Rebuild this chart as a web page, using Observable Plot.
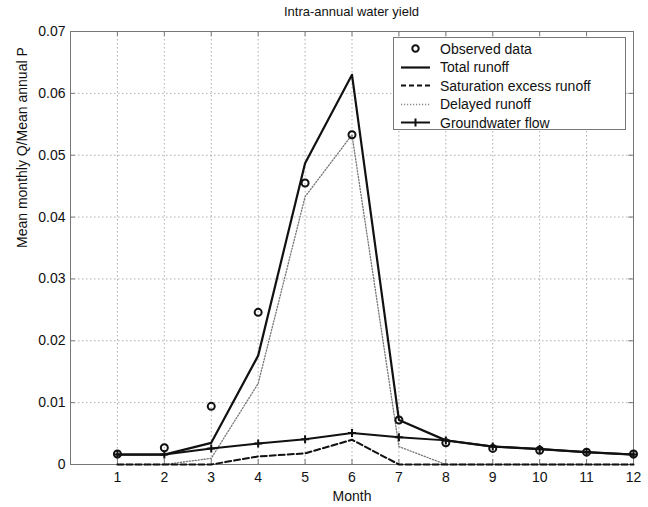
<!DOCTYPE html>
<html>
<head>
<meta charset="utf-8">
<script src="https://cdn.jsdelivr.net/npm/d3@7"></script>
<script src="https://cdn.jsdelivr.net/npm/@observablehq/plot@0.6"></script>
<style>
  body { margin: 0; background: #fff; font-family: "Liberation Sans", Arial, sans-serif; }
  #wrap { position: relative; width: 648px; height: 507px; }
  #title { position: absolute; left: 70px; width: 563px; top: 4px; text-align: center; font-size: 13px; color: #111; }
  #chart { position: absolute; left: 0; top: 24px; }
  #legend { position: absolute; left: 393px; top: 37px; width: 233px; height: 93px; border: 1px solid #777; background: #fff; box-sizing: border-box; }
  .row { position: absolute; left: 0; height: 19px; display: flex; align-items: center; font-size: 14px; color: #111; }
  .row svg { margin-left: 6px; margin-right: 9px; }
</style>
</head>
<body>
<div id="wrap">
  <div id="title">Intra-annual water yield</div>
  <div id="chart"></div>
  <div id="legend"></div>
</div>
<script>
const months = [1,2,3,4,5,6,7,8,9,10,11,12];
const observed   = [0.0017,0.0027,0.0094,0.0246,0.0455,0.0533,0.0072,0.0035,0.0026,0.0023,0.0020,0.0017];
const total      = [0.0016,0.0016,0.0035,0.0176,0.0487,0.0630,0.0072,0.0039,0.0029,0.0025,0.0020,0.0016];
const saturation = [0,0,0,0.0013,0.0018,0.0040,0,0,0,0,0,0];
const delayed    = [0,0,0.0010,0.0131,0.0433,0.0533,0.0029,0,0,0,0,0];
const groundwater= [0.0016,0.0016,0.0026,0.0034,0.0041,0.0051,0.0044,0.0039,0.0029,0.0025,0.0020,0.0016];
const yTicks = [0,0.01,0.02,0.03,0.04,0.05,0.06,0.07];
const legendLabels = ["Observed data","Total runoff","Saturation excess runoff","Delayed runoff","Groundwater flow"];
const xLabel = "Month";
const yLabel = "Mean monthly Q/Mean annual P";

const rows = (vals) => months.map((m,i) => ({month: m, value: vals[i]}));
const plusSymbol = {
  draw(context, size) {
    const r = Math.sqrt(size / Math.PI);
    context.moveTo(-r, 0); context.lineTo(r, 0);
    context.moveTo(0, -r); context.lineTo(0, r);
  }
};
const fmt = d => d === 0 ? "0" : d.toFixed(2);

const chart = Plot.plot({
  width: 648,
  height: 483,
  marginLeft: 70,
  marginRight: 15,
  marginTop: 7,
  marginBottom: 43,
  style: {fontFamily: "'Liberation Sans', Arial, sans-serif", fontSize: "14px", color: "#111", background: "#fff"},
  x: {domain: [0, 12], ticks: months},
  y: {domain: [0, 0.07], ticks: yTicks},
  marks: [
    Plot.gridX(months, {stroke: "#999", strokeOpacity: 1, strokeDasharray: "1.5,2.5", strokeWidth: 0.8}),
    Plot.gridY(yTicks, {stroke: "#999", strokeOpacity: 1, strokeDasharray: "1.5,2.5", strokeWidth: 0.8}),
    Plot.frame({stroke: "#777"}),
    Plot.axisX(months, {anchor: "bottom", tickSize: 0, tickPadding: 8, label: null, fontSize: 14}),
    Plot.ruleX(months, {x: d => d, y1: 0, y2: 0.0008, stroke: "#777"}),
    Plot.ruleX(months, {x: d => d, y1: 0.0692, y2: 0.07, stroke: "#777"}),
    Plot.axisY(yTicks, {anchor: "left", tickSize: 0, tickPadding: 5, tickFormat: fmt, label: null, fontSize: 14}),
    Plot.ruleY(yTicks, {y: d => d, x1: 0, x2: 0.1, stroke: "#777"}),
    Plot.ruleY(yTicks, {y: d => d, x1: 11.9, x2: 12, stroke: "#777"}),
    Plot.text([xLabel], {frameAnchor: "bottom", dy: 36, fontSize: 14, fill: "#111"}),
    Plot.text([yLabel], {frameAnchor: "left", dx: -48, rotate: -90, fontSize: 14, fill: "#111"}),
    Plot.line(rows(delayed), {x: "month", y: "value", stroke: "#777", strokeWidth: 1.3, strokeDasharray: "1.2,1.8"}),
    Plot.line(rows(saturation), {x: "month", y: "value", stroke: "#111", strokeWidth: 2, strokeDasharray: "6,3"}),
    Plot.line(rows(groundwater), {x: "month", y: "value", stroke: "#111", strokeWidth: 2}),
    Plot.dot(rows(groundwater), {x: "month", y: "value", symbol: plusSymbol, r: 4, stroke: "#111", strokeWidth: 2}),
    Plot.line(rows(total), {x: "month", y: "value", stroke: "#111", strokeWidth: 2.2}),
    Plot.dot(rows(observed), {x: "month", y: "value", r: 3.5, stroke: "#111", strokeWidth: 2, fill: "none"})
  ]
});
document.getElementById("chart").appendChild(chart);

// Legend
const legend = document.getElementById("legend");
const sampleStyles = [
  {kind: "circle"},
  {kind: "line", dash: null, color: "#111", w: 2.2},
  {kind: "line", dash: "5,3", color: "#111", w: 2},
  {kind: "line", dash: "1.2,1.8", color: "#888", w: 1.3},
  {kind: "plus", dash: null, color: "#111", w: 2}
];
legendLabels.forEach((label, i) => {
  const row = document.createElement("div");
  row.className = "row";
  row.style.top = (1 + i * 18.6) + "px";
  const s = sampleStyles[i];
  let svg = `<svg width="31" height="19" viewBox="0 0 31 19">`;
  if (s.kind === "circle") {
    svg += `<circle cx="15.5" cy="9.5" r="3.2" fill="none" stroke="#111" stroke-width="2"/>`;
  } else {
    svg += `<line x1="1" x2="30" y1="9.5" y2="9.5" stroke="${s.color}" stroke-width="${s.w}" ${s.dash ? `stroke-dasharray="${s.dash}"` : ""}/>`;
    if (s.kind === "plus") svg += `<line x1="15.5" x2="15.5" y1="5.5" y2="13.5" stroke="#111" stroke-width="2"/>`;
  }
  svg += `</svg>`;
  row.innerHTML = svg + `<span>${label}</span>`;
  legend.appendChild(row);
});
</script>
</body>
</html>
